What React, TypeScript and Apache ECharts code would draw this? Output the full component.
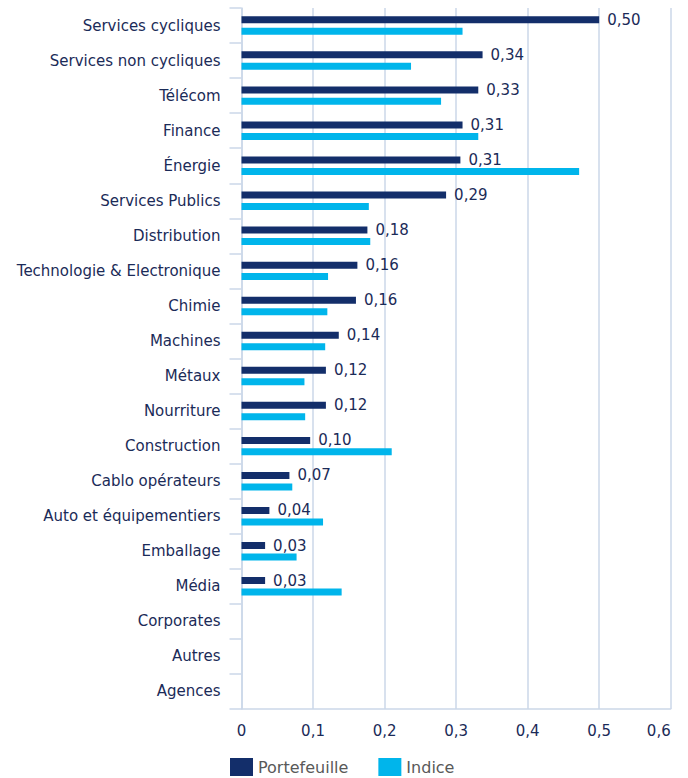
import React, { useEffect, useRef } from "react";
import * as echarts from "echarts";

const categories = [
  "Services cycliques",
  "Services non cycliques",
  "Télécom",
  "Finance",
  "Énergie",
  "Services Publics",
  "Distribution",
  "Technologie & Electronique",
  "Chimie",
  "Machines",
  "Métaux",
  "Nourriture",
  "Construction",
  "Cablo opérateurs",
  "Auto et équipementiers",
  "Emballage",
  "Média",
  "Corporates",
  "Autres",
  "Agences",
];

const portefeuille = [
  0.5, 0.337, 0.331, 0.309, 0.306, 0.286, 0.176, 0.162, 0.16, 0.136, 0.118,
  0.118, 0.096, 0.067, 0.039, 0.033, 0.033, null, null, null,
];

const indice = [
  0.309, 0.237, 0.279, 0.331, 0.472, 0.178, 0.18, 0.121, 0.12, 0.117, 0.088,
  0.089, 0.21, 0.071, 0.114, 0.077, 0.14, null, null, null,
];

const TEXT = "#1b2b58";
const GRID = "#cbd7e8";
const DARK = "#132e6a";
const LIGHT = "#00b5eb";
const FONT = "'DejaVu Sans', Verdana, sans-serif";

const fmt = (v: number) => v.toFixed(2).replace(".", ",");

export default function App() {
  const ref = useRef<HTMLDivElement>(null);
  useEffect(() => {
    document.body.style.margin = "0";
    const chart = echarts.init(ref.current!, undefined, { renderer: "svg" });
    chart.setOption({
      animation: false,
      textStyle: { fontFamily: FONT },
      grid: { left: 241.5, right: 17.3, top: 8, bottom: 69, containLabel: false },
      legend: {
        data: ["Portefeuille", "Indice"],
        left: 225,
        top: 753,
        padding: 5,
        itemWidth: 23,
        itemHeight: 18,
        itemGap: 30,
        icon: "rect",
        textStyle: { color: "#595959", fontSize: 16, fontFamily: FONT },
      },
      xAxis: {
        type: "value",
        min: 0,
        max: 0.6,
        interval: 0.1,
        axisLine: { show: true, lineStyle: { color: GRID, width: 1.5 } },
        axisTick: { show: false },
        splitLine: { show: true, lineStyle: { color: GRID, width: 1.5 } },
        axisLabel: {
          color: TEXT,
          fontSize: 15,
          fontFamily: FONT,
          margin: 14,
          alignMaxLabel: "right",
          formatter: (v: number) => (v === 0 ? "0" : String(Math.round(v * 10) / 10).replace(".", ",")),
        },
      },
      yAxis: {
        type: "category",
        data: categories,
        inverse: true,
        axisLine: { show: true, lineStyle: { color: GRID, width: 1.5 } },
        axisTick: { show: true, length: 12, lineStyle: { color: GRID, width: 1.5 } },
        axisLabel: { color: TEXT, fontSize: 15, fontFamily: FONT, margin: 21 },
        splitLine: { show: false },
      },
      series: [
        {
          name: "Portefeuille",
          type: "bar",
          data: portefeuille,
          barWidth: 7,
          barGap: "64%",
          itemStyle: { color: DARK },
          label: {
            show: true,
            position: "right",
            distance: 8,
            color: TEXT,
            fontSize: 15,
            fontFamily: FONT,
            formatter: (p: any) => (p.value == null ? "" : fmt(p.value)),
          },
        },
        {
          name: "Indice",
          type: "bar",
          data: indice,
          barWidth: 7,
          itemStyle: { color: LIGHT },
        },
      ],
    });
    return () => chart.dispose();
  }, []);
  return <div ref={ref} style={{ width: 688, height: 778 }} />;
}
